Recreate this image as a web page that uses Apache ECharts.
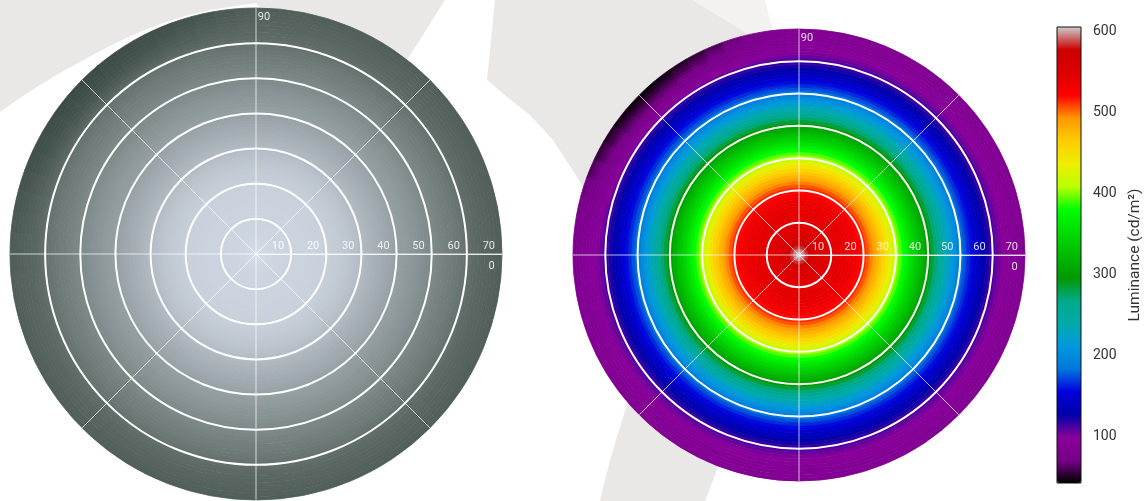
<!DOCTYPE html>
<html>
<head>
<meta charset="utf-8">
<title>Luminance</title>
<script src="https://cdn.jsdelivr.net/npm/echarts@6/dist/echarts.min.js"></script>
<style>
  html, body { margin: 0; padding: 0; background: #ffffff; }
  #chart { width: 1145px; height: 501px; }
</style>
</head>
<body>
<div id="chart"></div>
<script>
// Viewing angle θ (degrees off-axis): ring edges, 1° apart
const ringEdges = [
  0, 1, 2, 3, 4, 5, 6, 7, 8, 9, 10, 11, 12, 13, 14, 15, 16, 17, 18, 19, 20,
  21, 22, 23, 24, 25, 26, 27, 28, 29, 30, 31, 32, 33, 34, 35, 36, 37, 38, 39, 40,
  41, 42, 43, 44, 45, 46, 47, 48, 49, 50, 51, 52, 53, 54, 55, 56, 57, 58, 59, 60,
  61, 62, 63, 64, 65, 66, 67, 68, 69, 70
];

// Luminance (cd/m²) of each 1° ring, all azimuths
const ringLuminance = [
  604, 595, 583, 571, 562, 556, 551, 548, 546, 545,
  544, 543, 542, 541, 540, 538, 535, 531, 526, 520,
  513, 505, 496, 487, 477, 467, 456, 444, 431, 418,
  405, 392, 380, 368, 357, 346, 336, 326, 316, 306,
  295, 283, 271, 259, 247, 235, 223, 212, 202, 192,
  183, 174, 165, 157, 149, 142, 135, 128, 122, 116,
  110, 105, 101, 98, 96, 94, 92, 90, 88, 86
];

// Darker upper-left corner: azimuth sector edges (degrees) and the
// luminance of rings 60°–70° inside each sector
const cornerRingStart = 60;
const cornerAzimuthEdges = [90, 95, 100, 105, 110, 115, 120, 125, 130, 135, 140, 145, 150, 155, 160, 165, 170, 175, 180, 185];
const cornerLuminance = [
  [110, 104, 100, 97, 95, 93, 90, 88, 86, 84],
  [109, 103, 99, 95, 92, 90, 87, 85, 82, 80],
  [107, 101, 96, 92, 89, 86, 82, 79, 76, 74],
  [106, 99, 94, 89, 85, 81, 78, 74, 70, 68],
  [104, 97, 91, 86, 82, 77, 73, 68, 65, 61],
  [103, 95, 89, 83, 78, 73, 68, 63, 59, 55],
  [102, 94, 87, 81, 76, 70, 65, 59, 55, 51],
  [101, 93, 86, 79, 73, 67, 62, 56, 51, 47],
  [100, 92, 85, 78, 72, 66, 60, 54, 49, 45],
  [100, 92, 85, 78, 72, 66, 60, 54, 49, 45],
  [101, 93, 86, 79, 73, 67, 62, 56, 51, 47],
  [102, 94, 87, 81, 76, 70, 65, 59, 55, 51],
  [103, 95, 89, 83, 78, 73, 68, 63, 59, 55],
  [104, 97, 91, 86, 82, 77, 73, 68, 65, 61],
  [106, 99, 94, 89, 85, 81, 78, 74, 70, 68],
  [107, 101, 96, 92, 89, 86, 82, 79, 76, 74],
  [108, 102, 98, 94, 91, 88, 86, 83, 80, 78],
  [109, 104, 99, 96, 94, 91, 89, 86, 84, 82],
  [110, 104, 100, 97, 95, 93, 90, 88, 86, 84]
];

const radiusTicks = [10, 20, 30, 40, 50, 60, 70];
const angleLabels = [0, 90];
const colorbarTicks = [100, 200, 300, 400, 500, 600];
const luminanceMin = 42;
const luminanceMax = 605;

// Colour scales (evenly spaced stops from min to max)
const spectralColors = [
  '#000000', '#770088', '#880099', '#0000aa', '#0000dd', '#0077dd', '#0099dd',
  '#00aaaa', '#00aa88', '#009900', '#00bb00', '#00dd00', '#00ff00', '#bbff00',
  '#eeee00', '#ffcc00', '#ff9900', '#ff0000', '#dd0000', '#cc0000', '#cccccc'
];
const grayColors = [
  '#3c4946', '#46544f', '#5a6763', '#6b7875', '#74817f', '#7c8988', '#838f90',
  '#899596', '#8f9a9d', '#949fa3', '#9da6ab', '#a4adb3', '#abb4bb', '#b2bac3',
  '#b8c0ca', '#bec6d0', '#c3cbd5', '#c8d0da', '#ccd4df', '#d0d8e3', '#d5dde8'
];

// Cells: [θ inner, θ outer, azimuth start, azimuth end, luminance]
const cells = [];
for (let k = 0; k < ringLuminance.length; k++) {
  const r0 = ringEdges[k], r1 = ringEdges[k + 1];
  if (k < cornerRingStart) {
    cells.push([r0, r1, 0, 180, ringLuminance[k]]);
    cells.push([r0, r1, 180, 360, ringLuminance[k]]);
  } else {
    const j = k - cornerRingStart;
    cells.push([r0, r1, 0, cornerAzimuthEdges[0], ringLuminance[k]]);
    for (let c = 0; c < cornerLuminance.length; c++) {
      cells.push([r0, r1, cornerAzimuthEdges[c], cornerAzimuthEdges[c + 1], cornerLuminance[c][j]]);
    }
    cells.push([r0, r1, cornerAzimuthEdges[cornerAzimuthEdges.length - 1], 360, ringLuminance[k]]);
  }
}

// One annular sector per cell, placed through the polar axes
function renderCell(params, api) {
  const cs = params.coordSys;
  const inner = api.coord([api.value(0), api.value(2)]);
  const outerA = api.coord([api.value(1), api.value(2)]);
  const outerB = api.coord([api.value(1), api.value(3)]);
  const rIn = Math.hypot(inner[0] - cs.cx, inner[1] - cs.cy);
  const rOut = Math.hypot(outerA[0] - cs.cx, outerA[1] - cs.cy);
  const angA = Math.atan2(outerA[1] - cs.cy, outerA[0] - cs.cx);
  const angB = Math.atan2(outerB[1] - cs.cy, outerB[0] - cs.cx);
  let span = angA - angB;
  while (span <= 1e-9) span += Math.PI * 2;
  const color = api.visual('color');
  return {
    type: 'sector',
    shape: { cx: cs.cx, cy: cs.cy, r0: rIn, r: rOut, startAngle: angB, endAngle: angB + span, clockwise: true },
    style: { fill: color, stroke: color, lineWidth: 0.8 }
  };
}

const FONT = 'Roboto, "Noto Sans", sans-serif';
const ringColors = ['rgba(255,255,255,0)'].concat(radiusTicks.slice(0, -1).map(() => '#ffffff'), ['rgba(255,255,255,0)']);

function angleAxisFor(i) {
  return {
    polarIndex: i, type: 'value', min: 0, max: 360, interval: 45,
    startAngle: 0, clockwise: false, z: 10,
    axisLine: { show: false }, axisTick: { show: false },
    splitLine: { show: true, lineStyle: { color: 'rgba(255,255,255,0.72)', width: 1 } },
    axisLabel: {
      margin: -13.5,
      formatter: v => (angleLabels.indexOf(v) < 0 ? '' : (v === 0 ? '{e|' + v + '}' : '{n|' + v + '}')),
      rich: {
        e: { color: 'rgba(255,255,255,0.85)', fontSize: 11, fontFamily: FONT, padding: [24, 0, 0, 0] },
        n: { color: 'rgba(255,255,255,0.85)', fontSize: 11, fontFamily: FONT, padding: [0, 0, 0, 16], lineHeight: 8 }
      }
    }
  };
}

function radiusAxisFor(i) {
  return {
    polarIndex: i, type: 'value', min: 0, max: 70, interval: 10, z: 10,
    axisLine: { show: true, lineStyle: { color: 'rgba(255,255,255,0.8)', width: 1 } },
    axisTick: { show: false },
    splitLine: { show: true, lineStyle: { color: ringColors, width: 2 } },
    axisLabel: {
      color: 'rgba(255,255,255,0.85)', fontSize: 11, fontFamily: FONT,
      align: 'right', padding: [0, 7, 0, 0], margin: 2,
      formatter: v => (radiusTicks.indexOf(v) < 0 ? '' : String(v))
    }
  };
}

const chart = echarts.init(document.getElementById('chart'), null, { renderer: 'canvas' });
chart.setOption({
  animation: false,
  backgroundColor: '#ffffff',
  graphic: [
    { type: 'polygon', z: -1, silent: true, style: { fill: '#e9e8e6' },
      shape: { points: [[0, 0], [445, 0], [402, 68], [300, 60], [256, 3], [235, 6], [210, 10], [185, 16], [160, 24],
        [140, 32], [120, 41], [100, 51], [80, 62], [60, 73], [40, 85], [20, 98], [0, 112]] } },
    { type: 'polygon', z: -1, silent: true, style: { fill: '#e9e8e6' },
      shape: { points: [[495, 0], [693, 0], [748, 34], [780, 120], [650, 250], [585, 190], [577, 177], [553, 140],
        [530, 115], [507, 97], [487, 80]] } },
    { type: 'polygon', z: -1, silent: true, style: { fill: '#f3f2f1' },
      shape: { points: [[693, 0], [765, 0], [775, 40], [748, 34]] } },
    { type: 'polygon', z: -1, silent: true, style: { fill: '#e9e8e6' },
      shape: { points: [[600, 501], [610, 460], [619, 430], [628, 402], [640, 390], [700, 420], [720, 460], [717, 470], [705, 501]] } }
  ],
  polar: [
    { center: [256, 254], radius: 246 },
    { center: [799, 255], radius: 226 }
  ],
  angleAxis: [angleAxisFor(0), angleAxisFor(1)],
  radiusAxis: [radiusAxisFor(0), radiusAxisFor(1)],
  grid: {
    left: 1057, top: 27, width: 24, height: 456, show: true, z: 5,
    backgroundColor: 'transparent', borderColor: '#111111', borderWidth: 1,
    outerBoundsMode: 'none'
  },
  xAxis: { gridIndex: 0, type: 'value', show: false, min: 0, max: 1 },
  yAxis: {
    gridIndex: 0, type: 'value', position: 'right', min: luminanceMin, max: luminanceMax,
    axisLine: { show: false },
    splitLine: { show: false },
    axisTick: { show: true, customValues: colorbarTicks, length: 5, lineStyle: { color: '#222222' } },
    axisLabel: { customValues: colorbarTicks, color: '#333333', fontSize: 14, fontFamily: FONT, margin: 12 },
    name: 'Luminance (cd/m²)', nameLocation: 'middle', nameRotate: 90, nameGap: 46,
    nameTextStyle: { color: '#333333', fontSize: 15.5, fontFamily: FONT }
  },
  visualMap: [
    { type: 'continuous', seriesIndex: 0, dimension: 4, min: luminanceMin, max: luminanceMax,
      show: false, inRange: { color: grayColors } },
    { type: 'continuous', seriesIndex: 1, dimension: 4, min: luminanceMin, max: luminanceMax,
      show: true, left: 1057, top: 27, itemWidth: 24, itemHeight: 456, padding: 0,
      text: null, calculable: false, hoverLink: false, inRange: { color: spectralColors } }
  ],
  series: [
    { type: 'custom', name: 'Appearance', coordinateSystem: 'polar', polarIndex: 0,
      renderItem: renderCell, data: cells, encode: { radius: [0, 1], angle: [2, 3] }, silent: true },
    { type: 'custom', name: 'Luminance', coordinateSystem: 'polar', polarIndex: 1,
      renderItem: renderCell, data: cells, encode: { radius: [0, 1], angle: [2, 3] }, silent: true }
  ]
});
</script>
</body>
</html>
